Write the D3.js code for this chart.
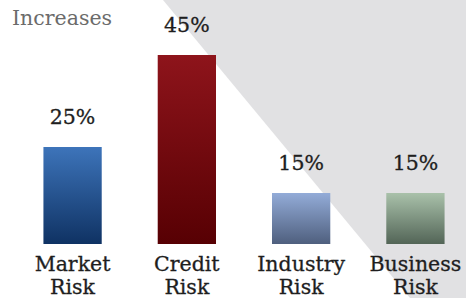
<!DOCTYPE html>
<html><head><meta charset="utf-8">
<script src="https://cdn.jsdelivr.net/npm/d3@7"></script>
<style>html,body{margin:0;padding:0;background:#fff;}svg{display:block;}
text{font-family:"DejaVu Serif",serif;}</style>
</head><body>
<script>
const categories = ["Market Risk", "Credit Risk", "Industry Risk", "Business Risk"];
const values = [25, 45, 15, 15];
const valueLabels = ["25%", "45%", "15%", "15%"];
const title = "Increases";
const gradTop = ["#3d74ba", "#8e141b", "#93acd8", "#a9c1aa"];
const gradBottom = ["#0f3263", "#570003", "#4f5f7e", "#536557"];

const W = 466, H = 298;
const svg = d3.select("body").append("svg").attr("width", W).attr("height", H);

// grey diagonal backdrop
svg.append("polygon")
  .attr("points", [[163,0],[466,0],[466,298],[410,298]].map(p=>p.join(",")).join(" "))
  .attr("fill", "#e1e1e3");

const defs = svg.append("defs");
categories.forEach((c,i)=>{
  const g = defs.append("linearGradient").attr("id","g"+i).attr("x1",0).attr("y1",0).attr("x2",0).attr("y2",1);
  g.append("stop").attr("offset","0%").attr("stop-color",gradTop[i]);
  g.append("stop").attr("offset","100%").attr("stop-color",gradBottom[i]);
});

const x = d3.scaleBand().domain(categories).range([16, 472]).paddingInner(0.49).paddingOuter(0.24);
const y = d3.scaleLinear().domain([0, 45]).range([262, 55]);
const baseline = 244;

svg.selectAll("rect.bar").data(values).join("rect")
  .attr("class","bar")
  .attr("x",(d,i)=>x(categories[i]))
  .attr("width",x.bandwidth())
  .attr("y",d=>y(d))
  .attr("height",d=>baseline-y(d))
  .attr("fill",(d,i)=>`url(#g${i})`);

svg.selectAll("text.val").data(values).join("text")
  .attr("class","val")
  .attr("x",(d,i)=>x(categories[i])+x.bandwidth()/2)
  .attr("y",d=>y(d)-23)
  .attr("text-anchor","middle")
  .attr("font-size",20.5).attr("fill","#1e1e1e")
  .attr("stroke","#1e1e1e").attr("stroke-width",0.3)
  .text((d,i)=>valueLabels[i]);

const lines = [];
categories.forEach(c=>c.split(" ").forEach((p,j)=>lines.push({c, p, j})));
svg.selectAll("text.cat").data(lines).join("text")
  .attr("class","cat")
  .attr("text-anchor","middle")
  .attr("x",d=>x(d.c)+x.bandwidth()/2)
  .attr("y",d=>271+d.j*23)
  .attr("font-size",20.5).attr("fill","#1e1e1e")
  .attr("stroke","#1e1e1e").attr("stroke-width",0.3)
  .text(d=>d.p);

svg.append("text").attr("x",12).attr("y",25)
  .attr("font-size",20.5).attr("fill","#6b6b6b")
  .text(title);
</script>
</body></html>
